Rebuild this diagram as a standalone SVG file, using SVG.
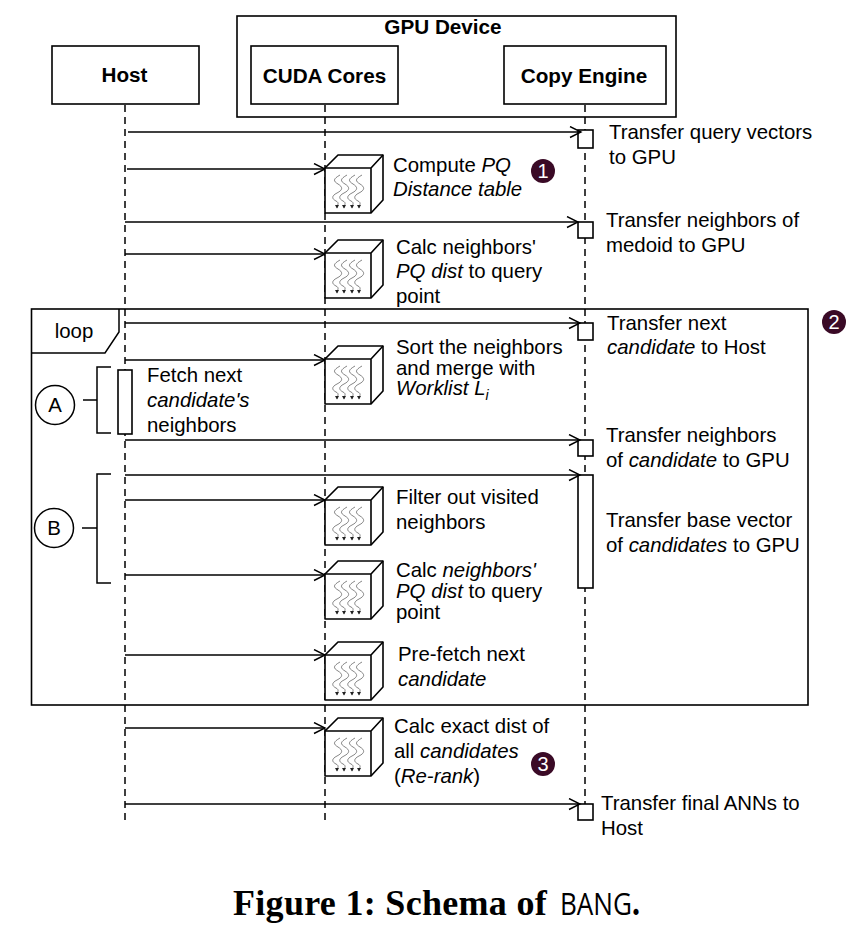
<svg xmlns="http://www.w3.org/2000/svg" width="858" height="925" viewBox="0 0 858 925">
<style>
text{font-family:"Liberation Sans",Arial,sans-serif;font-size:20.4px;fill:#000}
.b{font-weight:bold;font-size:20.700px}
.i{font-style:italic}
.box{fill:#fff;stroke:#000;stroke-width:1.6}
.life{fill:none;stroke:#000;stroke-width:1.5;stroke-dasharray:7 5}
.msg{fill:none;stroke:#000;stroke-width:1.5;marker-end:url(#arr)}
.ln{fill:none;stroke:#000;stroke-width:1.5}
.badge{fill:#3a0a26}
.bt{fill:#fff;font-size:20px;text-anchor:middle}
.wave{fill:none;stroke:#666;stroke-width:.8;marker-end:url(#sm)}
.cap{font-family:"Liberation Serif",serif;font-size:36px;font-weight:bold;letter-spacing:.3px}
</style>
<defs>
<marker id="arr" markerWidth="14" markerHeight="14" refX="12" refY="6" orient="auto" markerUnits="userSpaceOnUse"><path d="M1 .5L12 6L1 11.500" fill="none" stroke="#000" stroke-width="1.400"/></marker>
<marker id="sm" markerWidth="5" markerHeight="5" refX="3" refY="2" orient="auto" markerUnits="userSpaceOnUse"><path d="M0 0L3.500 2L0 4z" fill="#222"/></marker>
<g id="cube">
<path d="M0 0L13-13H58V32L46 45H0z" fill="#fff" stroke="#000" stroke-width="1.600" stroke-linejoin="round"/>
<path d="M0 0H46V45M46 0L58-13" fill="none" stroke="#000" stroke-width="1.600"/>
<path class="wave" d="M15 7c-7 4-7 6-2 9s5 6-1 9s-5 6-1 8s1 4 1 7"/>
<path class="wave" d="M22 7c-7 4-7 6-2 9s5 6-1 9s-5 6-1 8s1 4 1 7"/>
<path class="wave" d="M30 7c-7 4-7 6-2 9s5 6-1 9s-5 6-1 8s1 4 1 7"/>
<path class="wave" d="M37 7c-7 4-7 6-2 9s5 6-1 9s-5 6-1 8s1 4 1 7"/>
</g>
</defs>
<g id="gpu-device"><rect class="box" x="237" y="16" width="439" height="101"/><text class="b" x="443" y="34" text-anchor="middle">GPU Device</text></g>
<g id="host"><rect class="box" x="52" y="46" width="147" height="58"/><text class="b" x="124.500" y="82" text-anchor="middle">Host</text></g>
<g id="cuda-cores"><rect class="box" x="251" y="46" width="147" height="58"/><text class="b" x="324.500" y="83" text-anchor="middle">CUDA Cores</text></g>
<g id="copy-engine"><rect class="box" x="504" y="46" width="162" height="58"/><text class="b" x="584" y="83" text-anchor="middle">Copy Engine</text></g>
<g id="lifelines">
<path class="life" d="M125 105V822"/><path class="life" d="M325 105V822"/><path class="life" d="M585 105V822"/>
</g>
<g id="loop"><rect x="31.500" y="309" width="776.500" height="396" fill="none" stroke="#000" stroke-width="1.600"/><path d="M32 353H105L119 332V309" fill="none" stroke="#000" stroke-width="1.500"/><text x="74" y="338" text-anchor="middle">loop</text></g>
<g id="activations">
<rect class="box" x="578" y="130" width="15" height="18"/>
<rect class="box" x="578" y="222" width="15" height="16"/>
<rect class="box" x="578" y="323" width="15" height="17"/>
<rect class="box" x="578" y="440" width="15" height="16"/>
<rect class="box" x="578" y="475" width="15" height="113"/>
<rect class="box" x="578" y="804" width="15" height="16"/>
<rect class="box" x="118" y="370" width="14" height="64"/>
</g>
<g id="connectors">
<path class="msg" d="M128 132H581"/>
<path class="msg" d="M127 169H325"/>
<path class="msg" d="M125 222H578"/>
<path class="msg" d="M125 254H325"/>
<path class="msg" d="M125 323H580"/>
<path class="msg" d="M125 360H325"/>
<path class="msg" d="M125 440H580"/>
<path class="msg" d="M125 475H580"/>
<path class="msg" d="M125 500H325"/>
<path class="msg" d="M125 575H325"/>
<path class="msg" d="M125 655H325"/>
<path class="msg" d="M125 728H325"/>
<path class="msg" d="M125 804H580"/>
<path class="ln" d="M111 367H97V433H111M83 400H97"/>
<path class="ln" d="M111 474H97V583H111M82 528H97"/>
</g>
<g id="cube-1"><use href="#cube" x="325" y="168"/><text x="393" y="172">Compute <tspan class="i">PQ</tspan></text><text class="i" x="393" y="196">Distance table</text></g>
<g id="cube-2"><use href="#cube" x="325" y="253"/><text x="396" y="254">Calc neighbors'</text><text x="396" y="278"><tspan class="i">PQ dist</tspan> to query</text><text x="396" y="303">point</text></g>
<g id="cube-3"><use href="#cube" x="325" y="359"/><text x="396" y="354">Sort the neighbors</text><text x="396" y="375">and merge with</text><text x="396" y="395"><tspan class="i">Worklist L</tspan><tspan class="i" font-size="14" dy="5">i</tspan></text></g>
<g id="cube-4"><use href="#cube" x="325" y="500"/><text x="396" y="504">Filter out visited</text><text x="396" y="529">neighbors</text></g>
<g id="cube-5"><use href="#cube" x="325" y="574"/><text x="396" y="577">Calc <tspan class="i">neighbors'</tspan></text><text x="396" y="598"><tspan class="i">PQ dist</tspan> to query</text><text x="396" y="619">point</text></g>
<g id="cube-6"><use href="#cube" x="325" y="655"/><text x="398" y="661">Pre-fetch next</text><text class="i" x="398" y="686">candidate</text></g>
<g id="cube-7"><use href="#cube" x="325" y="731"/><text x="394" y="733">Calc exact dist of</text><text x="394" y="758">all <tspan class="i">candidates</tspan></text><text x="394" y="783">(<tspan class="i">Re-rank</tspan>)</text></g>
<g id="labels">
<text x="609" y="139">Transfer query vectors</text><text x="609" y="164">to GPU</text>
<text x="606" y="227">Transfer neighbors of</text><text x="606" y="252">medoid to GPU</text>
<text x="607" y="330">Transfer next</text><text x="607" y="354"><tspan class="i">candidate</tspan> to Host</text>
<text x="606" y="442">Transfer neighbors</text><text x="606" y="467">of <tspan class="i">candidate</tspan> to GPU</text>
<text x="606" y="527">Transfer base vector</text><text x="606" y="552">of <tspan class="i">candidates</tspan> to GPU</text>
<text x="601" y="810">Transfer final ANNs to</text><text x="601" y="835">Host</text>
<text x="147" y="382">Fetch next</text><text class="i" x="147" y="407">candidate's</text><text x="147" y="432">neighbors</text>
</g>
<g id="marker-a"><circle cx="55" cy="405" r="19.500" fill="#fff" stroke="#000" stroke-width="1.500"/><text x="55" y="412" text-anchor="middle">A</text></g>
<g id="marker-b"><circle cx="54" cy="528" r="19.500" fill="#fff" stroke="#000" stroke-width="1.500"/><text x="54" y="535" text-anchor="middle">B</text></g>
<g id="badge-1"><circle class="badge" cx="543" cy="171" r="12"/><text class="bt" x="543" y="178">1</text></g>
<g id="badge-2"><circle class="badge" cx="834" cy="322" r="12"/><text class="bt" x="834" y="329">2</text></g>
<g id="badge-3"><circle class="badge" cx="543" cy="764" r="12"/><text class="bt" x="543" y="771">3</text></g>
<g id="caption"><text class="cap" x="233" y="915">Figure 1: Schema of</text><text x="560" y="915" textLength="80" lengthAdjust="spacingAndGlyphs" style="font-family:'Open Sans',sans-serif;font-size:31px">BANG<tspan style="font-family:'Liberation Serif',serif;font-size:38px;font-weight:bold">.</tspan></text></g>
</svg>
